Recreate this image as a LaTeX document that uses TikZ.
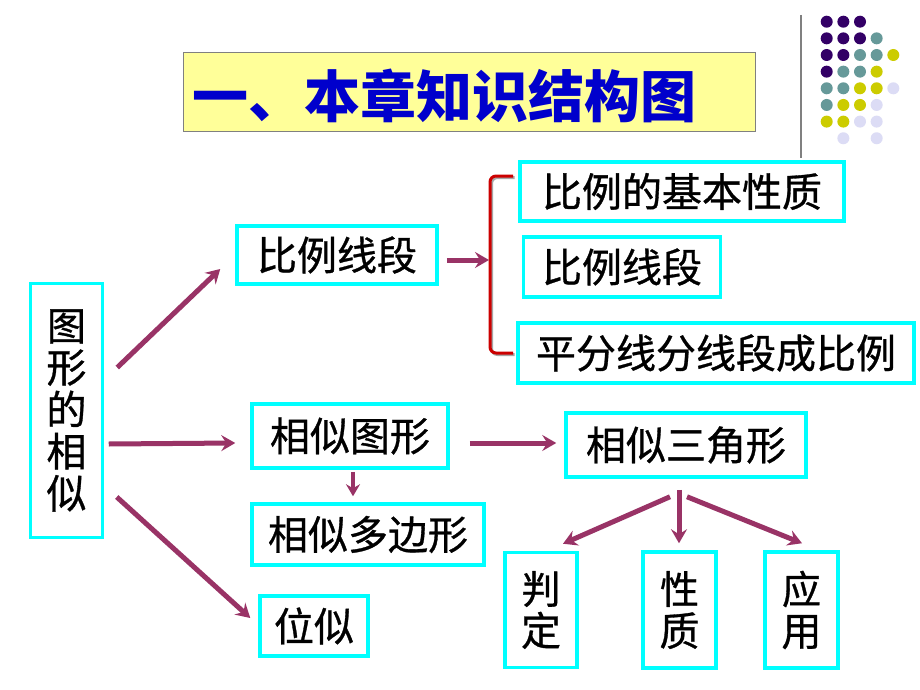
\documentclass[tikz,border=0pt]{standalone}
\usepackage{fontspec}
\newfontfamily\cjk{Noto Sans CJK SC}
\newfontfamily\cjkm{Noto Sans CJK SC}[FakeBold=0.8]
\usetikzlibrary{arrows.meta}
\definecolor{boxcyan}{HTML}{00FFFF}
\definecolor{arrcol}{HTML}{993366}
\definecolor{titlebg}{HTML}{FFFF99}
\definecolor{titlefg}{HTML}{0000CC}
\definecolor{bracered}{HTML}{CC0000}
\definecolor{dotP}{HTML}{330066}
\definecolor{dotT}{HTML}{669999}
\definecolor{dotY}{HTML}{CCCC00}
\definecolor{dotL}{HTML}{DCDCF5}
\tikzset{
  kbox/.style={draw=boxcyan, line width=3.5pt, fill=white, inner sep=0pt,
    font=\cjkm\fontsize{40}{42}\selectfont, anchor=center},
  vbox/.style={kbox, align=center},
  arr/.style={draw=arrcol, line width=5pt,
    -{Stealth[length=14pt,width=16pt,inset=5pt]}},
  sarr/.style={draw=arrcol, line width=4pt,
    -{Stealth[length=12pt,width=14pt,inset=4pt]}},
  dot/.style={circle, inner sep=0pt, minimum size=12pt},
}
\begin{document}
\begin{tikzpicture}[x=1pt,y=-1pt]
\useasboundingbox (0,0) rectangle (920,690);
\fill[white] (0,0) rectangle (920,690);

% decoration: vertical line and dots
\draw[gray, line width=2pt] (801,15) -- (801,158);
\foreach \row/\cols in {0/{0/P,1/P,2/P},1/{0/P,1/P,2/P,3/T},2/{0/P,1/P,2/T,3/T,4/Y},
  3/{0/P,1/T,2/T,3/Y},4/{0/T,1/T,2/Y,3/Y,4/L},5/{0/T,1/Y,2/Y,3/L},6/{0/Y,1/Y,2/L,3/L},7/{1/L,3/L}}{
  \foreach \c/\k in \cols {
    \node[dot, fill=dot\k] (d\row\c) at ({826.7+16.65*\c},{21.7+16.65*\row}) {};
  }
}

% title
\node[draw=gray, line width=1pt, fill=titlebg, minimum width=572pt, minimum height=78pt, inner sep=0pt]
  (titlebox) at (469,92) {};
\node[anchor=west, text=titlefg, font=\cjk\bfseries\fontsize{56}{60}\selectfont, inner sep=0pt]
  (title) at (192,96) {一、本章知识结构图};

% boxes
\node[vbox, minimum width=72pt, minimum height=254pt] (fig) at (66.5,410.5)
  {\fontsize{39}{40.5}\selectfont 图\\形\\的\\相\\似};
\node[kbox, minimum width=200pt, minimum height=58pt] (bl1) at (337,255) {比例线段};
\node[kbox, minimum width=324pt, minimum height=59pt] (jbxz) at (682,191.5) {比例的基本性质};
\node[kbox, minimum width=197pt, minimum height=60pt] (bl2) at (622,267) {比例线段};
\node[kbox, minimum width=396pt, minimum height=60pt] (pfx) at (716,353) {平分线分线段成比例};
\node[kbox, minimum width=196pt, minimum height=64pt] (xstx) at (350,436) {相似图形};
\node[kbox, minimum width=232pt, minimum height=61pt] (xsdbx) at (368,534.5) {相似多边形};
\node[kbox, minimum width=108pt, minimum height=60pt] (ws) at (314,626) {位似};
\node[kbox, minimum width=240pt, minimum height=64pt] (xssjx) at (686,445) {相似三角形};
\node[vbox, minimum width=72pt, minimum height=115pt] (pd) at (541,610)
  {\fontsize{39}{38}\selectfont 判\\定};
\node[vbox, minimum width=73pt, minimum height=116pt] (xz) at (679.5,610)
  {\fontsize{39}{38}\selectfont 性\\质};
\node[vbox, minimum width=73pt, minimum height=116pt] (yy) at (801.5,610)
  {\fontsize{39}{38}\selectfont 应\\用};

% brace
\draw[gray!70, line width=3pt, rounded corners=6pt] (514.5,177.5) -- (491.5,177.5) -- (491.5,354.5) -- (514.5,354.5);
\draw[bracered, line width=3pt, rounded corners=6pt] (513,176) -- (490,176) -- (490,353) -- (513,353);
\coordinate (bracetip) at (489,260);

% connectors
\draw[arr] ([shift={(13,-43)}]fig.east) -- ([shift={(-15,14)}]bl1.west);
\draw[arr] ([shift={(4.5,33.5)}]fig.east) -- ([shift={(-15,7)}]xstx.west);
\draw[arr] ([shift={(12.5,86.5)}]fig.east) -- ([shift={(-8,-8)}]ws.west);
\draw[arr] ([shift={(8,5)}]bl1.east) -- (bracetip);
\draw[arr] ([shift={(20,7)}]xstx.east) -- ([shift={(-8,-2)}]xssjx.west);
\draw[sarr] ([shift={(3,2)}]xstx.south) -- ([shift={(-15,-6)}]xsdbx.north);
\draw[arr] ([shift={(-16,18)}]xssjx.south) -- ([shift={(22,-7)}]pd.north);
\draw[arr] ([shift={(-7,11)}]xssjx.south) -- ([shift={(-0.5,-7)}]xz.north);
\draw[arr] ([shift={(1,18)}]xssjx.south) -- ([shift={(0.5,-7)}]yy.north);
\end{tikzpicture}
\end{document}
